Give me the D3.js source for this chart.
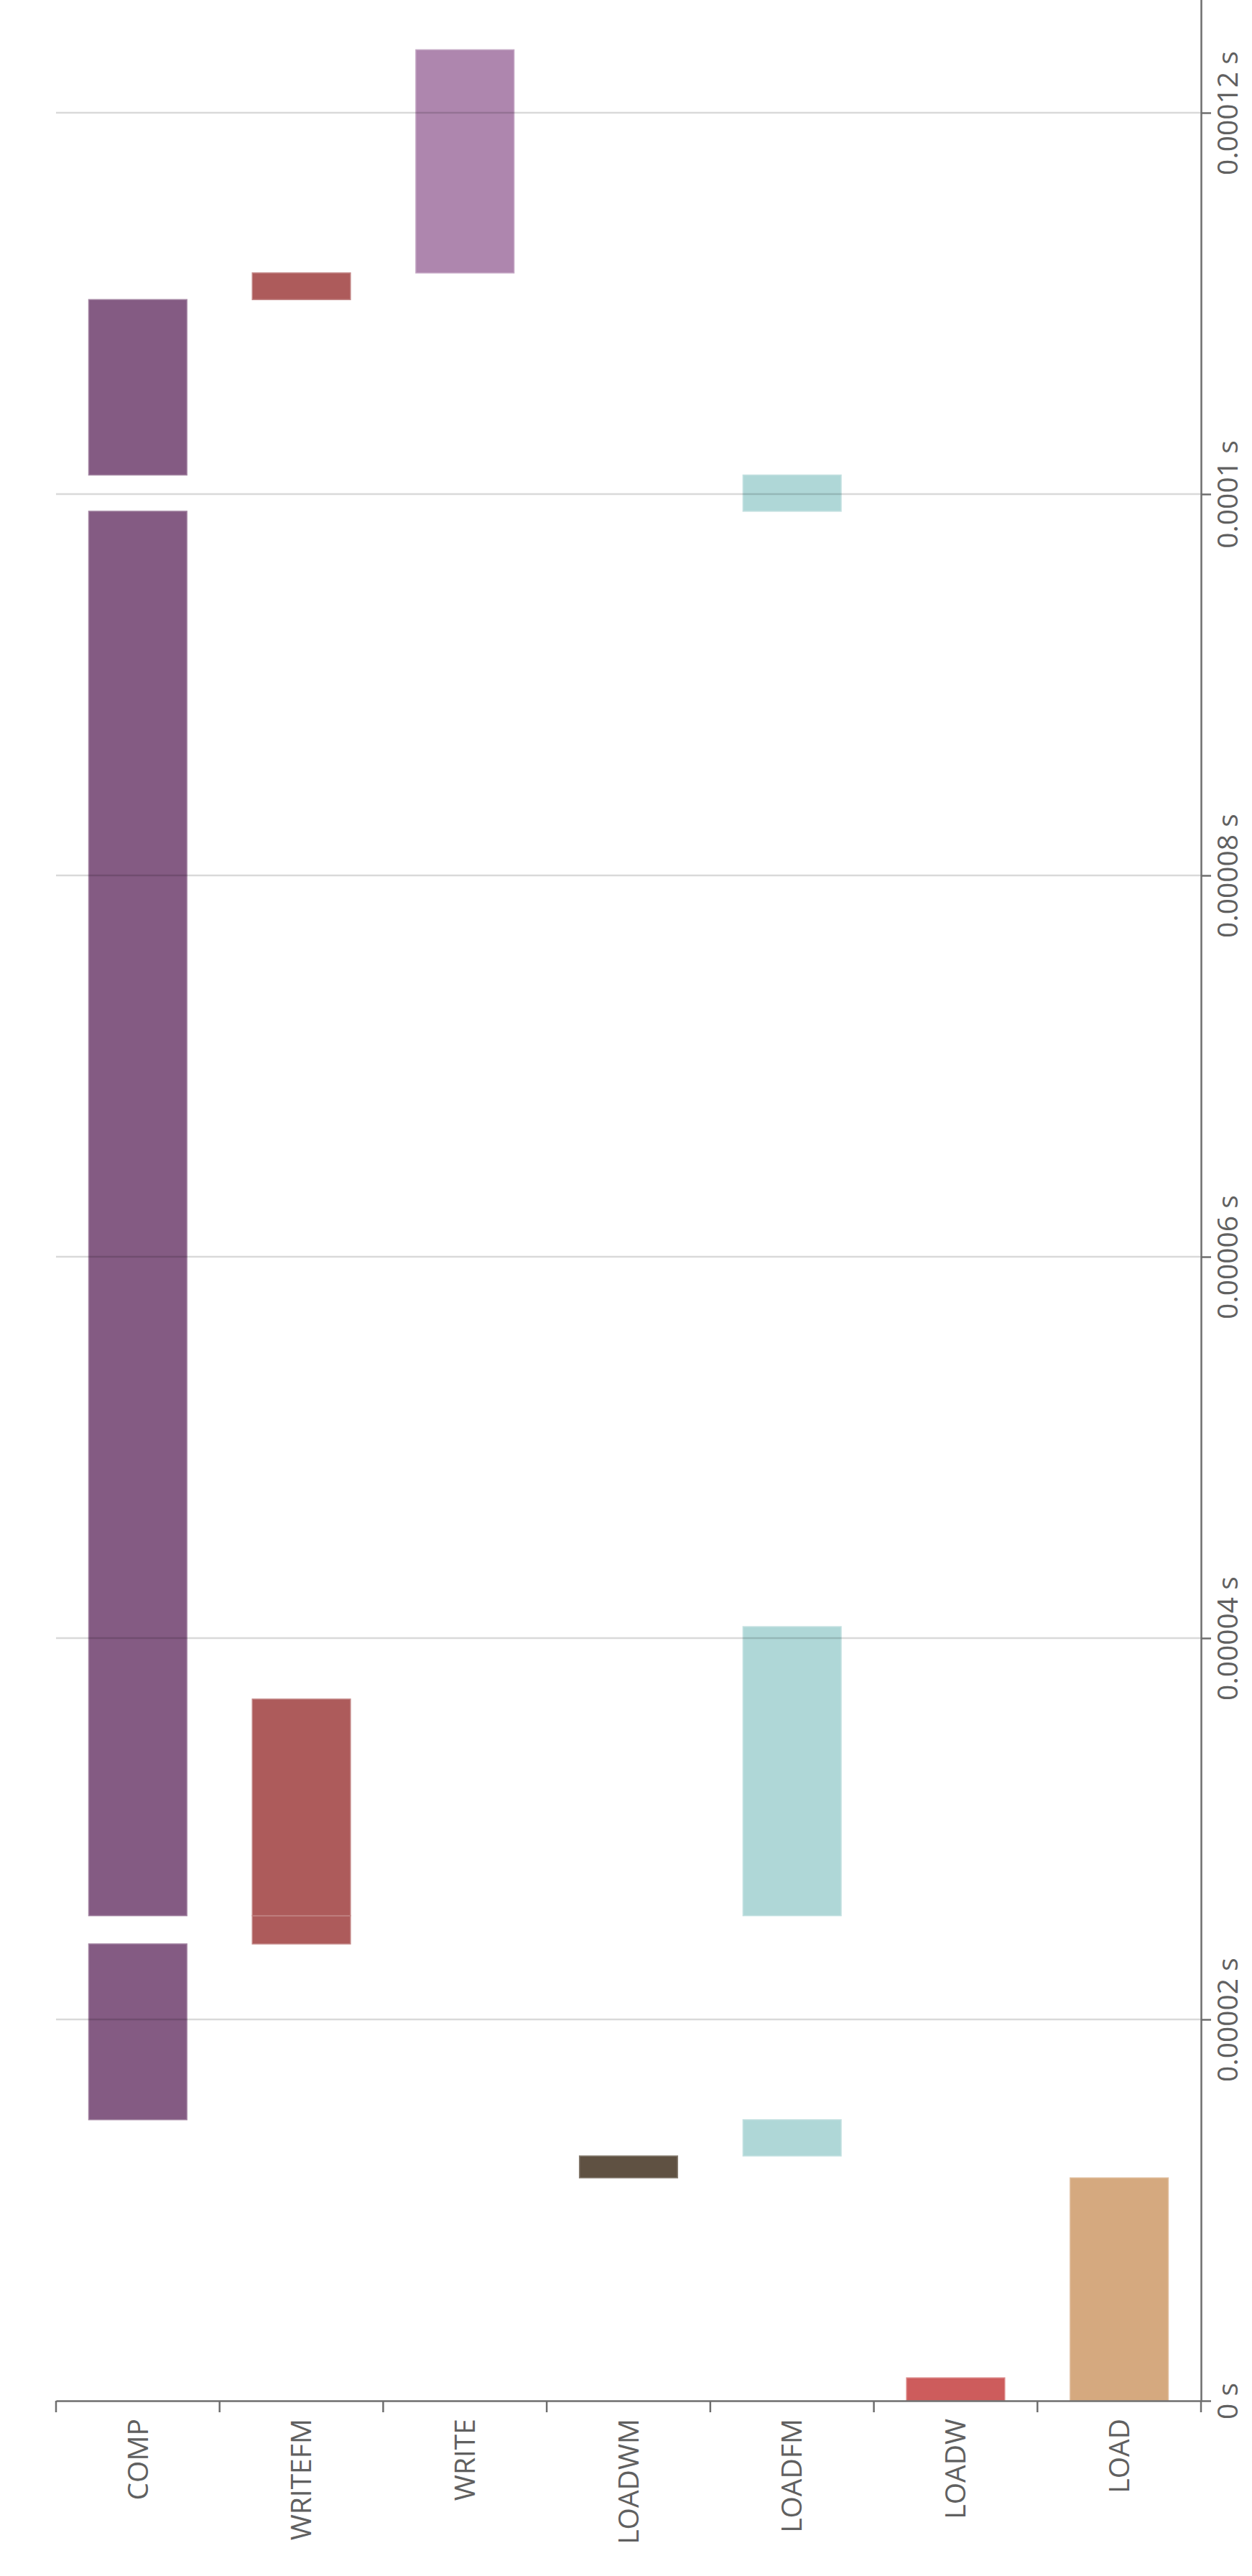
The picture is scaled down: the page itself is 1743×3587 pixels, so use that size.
<!DOCTYPE html>
<html>
<head>
<meta charset="utf-8">
<script src="https://cdn.jsdelivr.net/npm/d3@7"></script>
<style>
  body { margin: 0; background: #fff; }
  svg { display: block; }
  .axis text { font-family: "Open Sans", sans-serif; font-size: 39px; fill: #606060; }
  .axis path, .axis line { stroke: #6e6e6e; stroke-width: 2.5; }
</style>
</head>
<body>
<svg id="chart"></svg>
<script>
// lanes, bottom axis left to right
const categories = ['COMP', 'WRITEFM', 'WRITE', 'LOADWM', 'LOADFM', 'LOADW', 'LOAD'];
const laneColors = ['#845b83', '#ad5b5b', '#ae86ae', '#5f5142', '#afd7d7', '#cd5c5c', '#d5a97f'];

// tasks, times in microseconds
const taskLane  = ['LOAD', 'LOADW', 'LOADWM', 'LOADFM', 'COMP', 'WRITEFM', 'COMP', 'WRITEFM', 'LOADFM', 'LOADFM', 'COMP', 'WRITEFM', 'WRITE'];
const taskStart = [0,      0,       11.69,    12.84,    14.74,  23.96,     25.44,  25.44,     25.44,    99.1,     101.0,  110.2,     111.6];
const taskEnd   = [11.69,  1.2,     12.84,    14.74,    23.96,  25.44,     99.1,   36.8,      40.6,     101.0,    110.2,  111.6,     123.3];

const timeTicks = [0, 20e-6, 40e-6, 60e-6, 80e-6, 100e-6, 120e-6];

const width = 1743, height = 3587;
const left = 78, right = 1672, base = 3343;
const pxPerSecond = 26.55e6;

const tasks = taskLane.map((lane, i) => ({
    lane: lane,
    start: taskStart[i] * 1e-6,
    end: taskEnd[i] * 1e-6
}));

const svg = d3.select('#chart')
    .attr('width', width)
    .attr('height', height);

const x = d3.scaleBand().domain(categories).range([left, right]);
const tMax = 126e-6;
const y = d3.scaleLinear().domain([0, tMax]).range([base, base - tMax * pxPerSecond]);
const color = d3.scaleOrdinal().domain(categories).range(laneColors);

const barW = x.step() * 0.6;

// bars
svg.append('g').selectAll('rect')
    .data(tasks)
    .enter().append('rect')
    .attr('x', d => x(d.lane) + (x.step() - barW) / 2)
    .attr('width', barW)
    .attr('y', d => y(d.end))
    .attr('height', d => y(d.start) - y(d.end))
    .attr('fill', d => color(d.lane))
    .attr('stroke', d => d3.interpolateRgb(color(d.lane), '#fff')(0.25))
    .attr('stroke-width', 1.5);

// grid on top, faint so bars show it darker
svg.append('g').selectAll('line')
    .data(timeTicks.filter(t => t > 0))
    .enter().append('line')
    .attr('x1', left)
    .attr('x2', right)
    .attr('y1', d => y(d))
    .attr('y2', d => y(d))
    .attr('stroke', '#000')
    .attr('stroke-opacity', 0.15)
    .attr('stroke-width', 2.5);

// category axis
const xAxis = svg.append('g')
    .attr('class', 'axis')
    .attr('transform', `translate(0,${base})`)
    .call(d3.axisBottom(x).tickSize(0).tickSizeOuter(0));

xAxis.selectAll('.tick text')
    .attr('x', -25)
    .attr('y', 0)
    .attr('dy', '.35em')
    .attr('transform', 'rotate(-90)')
    .style('text-anchor', 'end');

// ticks sit on lane boundaries
xAxis.selectAll('.edge')
    .data(categories.map(c => x(c)).concat([right]))
    .enter().append('line')
    .attr('class', 'edge')
    .attr('x1', d => d)
    .attr('x2', d => d)
    .attr('y1', 0)
    .attr('y2', 16);

// time axis
const yAxis = svg.append('g')
    .attr('class', 'axis')
    .attr('transform', `translate(${right},0)`)
    .call(d3.axisRight(y)
        .tickValues(timeTicks)
        .tickSize(14)
        .tickSizeOuter(0)
        .tickFormat(d => d3.format('~g')(d) + ' s'));

yAxis.selectAll('.tick text')
    .attr('x', 0)
    .attr('y', 0)
    .attr('dy', '.35em')
    .attr('transform', 'translate(37,0) rotate(-90)')
    .style('text-anchor', 'middle');
</script>
</body>
</html>
